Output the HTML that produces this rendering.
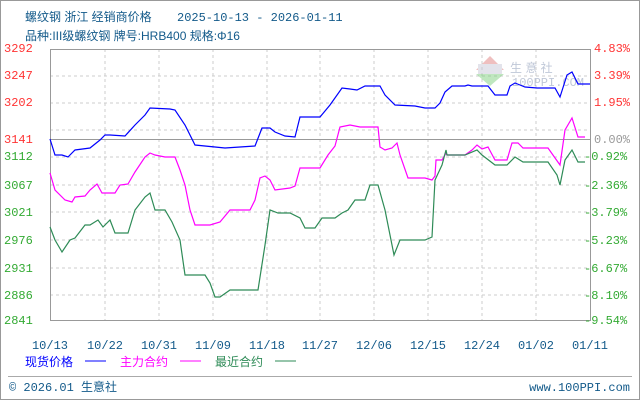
<!DOCTYPE html>
<html><head><meta charset="utf-8"><style>
body{margin:0;width:640px;height:400px;background:#fff;overflow:hidden}
svg{display:block}
text{font-family:"Liberation Mono","Noto Sans CJK SC",monospace;font-size:12px}
.c{font-family:"Liberation Sans","Noto Sans CJK SC",sans-serif}
</style></head><body>
<svg width="640" height="400" xmlns="http://www.w3.org/2000/svg">
<rect x="0.5" y="0.5" width="639" height="399" fill="#fff" stroke="#999"/>
<text x="25" y="21" class="c" fill="#135a8a" font-size="14">螺纹钢 浙江 经销商价格</text>
<text x="177" y="21" fill="#135a8a" font-size="13">2025-10-13 - 2026-01-11</text>
<text x="25" y="40" class="c" fill="#135a8a" font-size="13">品种:III级螺纹钢 牌号:HRB400 规格:Φ16</text>
<g stroke="#ccc" stroke-dasharray="3,3" stroke-width="1">
<line x1="105" y1="49" x2="105" y2="320"/><line x1="159" y1="49" x2="159" y2="320"/><line x1="213" y1="49" x2="213" y2="320"/><line x1="267" y1="49" x2="267" y2="320"/><line x1="320" y1="49" x2="320" y2="320"/><line x1="374" y1="49" x2="374" y2="320"/><line x1="428" y1="49" x2="428" y2="320"/><line x1="482" y1="49" x2="482" y2="320"/><line x1="536" y1="49" x2="536" y2="320"/>
<line x1="50" y1="76" x2="590" y2="76"/><line x1="50" y1="103" x2="590" y2="103"/><line x1="50" y1="130" x2="590" y2="130"/><line x1="50" y1="157" x2="590" y2="157"/><line x1="50" y1="185" x2="590" y2="185"/><line x1="50" y1="212" x2="590" y2="212"/><line x1="50" y1="240" x2="590" y2="240"/><line x1="50" y1="268" x2="590" y2="268"/><line x1="50" y1="295" x2="590" y2="295"/>
</g>
<line x1="50" y1="139.5" x2="590" y2="139.5" stroke="#999"/>
<rect x="50.5" y="49.5" width="540" height="271" fill="none" stroke="#999"/>
<g opacity="0.5">
<polygon points="476,70 490,56 504,70" fill="#e08080"/>
<rect x="478" y="64" width="24" height="10" fill="#c8c8d8"/>
<polygon points="476,74 504,74 490,86" fill="#80d080"/>
<text x="510" y="72" class="c" fill="#8090b0" font-size="16">生 意 社</text>
<text x="512" y="86" fill="#8090b0" font-size="10">100PPI.COM</text>
</g>
<polyline fill="none" stroke="#0000ff" stroke-width="1.2" points="50,139 55,155 62,155 68,157 75,150 90,148 100,140 105,135 110,135 125,136 135,125 145,115 150,108 170,109 175,110 185,125 195,145 225,148 255,146 262,128 270,128 275,132 285,136 295,137 300,117 320,117 330,105 342,88 350,89 357,90 365,86 380,86 385,95 395,105 415,106 425,108 435,108 440,103 445,92 452,86 465,86 468,85 472,86 488,86 495,95 507,95 510,86 515,83 520,85 525,87 537,88 555,88 560,97 567,75 572,72 578,84 590,84"/>
<polyline fill="none" stroke="#ff00ff" stroke-width="1.2" points="50,173 55,190 65,200 72,202 75,197 85,196 90,190 97,184 102,193 115,193 120,185 128,184 135,172 145,157 150,153 155,155 165,157 175,157 180,170 185,185 190,210 195,225 210,225 220,222 230,210 250,210 255,200 260,178 265,176 270,180 275,190 290,188 295,186 300,168 320,168 328,155 335,146 340,127 350,125 360,127 378,127 380,147 385,150 392,148 397,143 400,155 408,178 425,178 432,180 435,176 436,160 442,160 446,153 447,155 465,155 472,150 477,145 482,149 488,147 495,160 507,160 512,143 518,143 523,148 548,148 560,165 565,130 572,118 578,137 585,137"/>
<polyline fill="none" stroke="#2e8b57" stroke-width="1.2" points="50,227 55,240 62,252 70,240 75,238 85,225 90,225 98,220 103,227 110,220 115,233 128,233 135,210 145,197 150,193 155,210 165,210 172,222 180,240 185,275 205,275 210,283 215,297 220,297 230,290 258,290 265,245 270,210 278,213 290,213 300,218 305,228 315,228 322,218 335,218 342,213 348,210 355,200 365,200 370,185 378,185 385,210 390,235 394,255 400,240 425,240 432,237 435,180 442,165 446,150 447,155 465,155 477,150 482,155 495,165 507,165 515,157 523,162 548,162 557,175 560,185 565,160 572,150 578,162 585,162"/>
<g fill="#ff3333">
<text x="4" y="52">3292</text><text x="4" y="79">3247</text><text x="4" y="106">3202</text><text x="4" y="143">3141</text>
<text x="594" y="52">4.83%</text><text x="594" y="79">3.39%</text><text x="594" y="106">1.95%</text></g>
<text x="594" y="143" fill="#999">0.00%</text>
<g fill="#33aa33">
<text x="4" y="160">3112</text><text x="4" y="189">3067</text><text x="4" y="216">3021</text><text x="4" y="244">2976</text><text x="4" y="272">2931</text><text x="4" y="299">2886</text><text x="4" y="324">2841</text>
</g>
<g fill="#33aa33" font-family="Liberation Sans, sans-serif">
<text x="584" y="160" font-family="Liberation Sans, sans-serif">-0.92%</text><text x="584" y="189" font-family="Liberation Sans, sans-serif">-2.36%</text><text x="584" y="216" font-family="Liberation Sans, sans-serif">-3.79%</text><text x="584" y="244" font-family="Liberation Sans, sans-serif">-5.23%</text><text x="584" y="272" font-family="Liberation Sans, sans-serif">-6.67%</text><text x="584" y="299" font-family="Liberation Sans, sans-serif">-8.10%</text><text x="584" y="324" font-family="Liberation Sans, sans-serif">-9.54%</text></g>
<g fill="#135a8a" text-anchor="middle">
<text x="50" y="349">10/13</text><text x="105" y="349">10/22</text><text x="159" y="349">10/31</text><text x="213" y="349">11/09</text><text x="267" y="349">11/18</text><text x="320" y="349">11/27</text><text x="374" y="349">12/06</text><text x="428" y="349">12/15</text><text x="482" y="349">12/24</text><text x="536" y="349">01/02</text><text x="590" y="349">01/11</text></g>
<text x="25" y="366" class="c" fill="#0000ff" font-size="13">现货价格</text><line x1="85" y1="361" x2="106" y2="361" stroke="#0000ff"/>
<text x="120" y="366" class="c" fill="#ff00ff" font-size="13">主力合约</text><line x1="180" y1="361" x2="201" y2="361" stroke="#ff00ff"/>
<text x="215" y="366" class="c" fill="#2e8b57" font-size="13">最近合约</text><line x1="275" y1="361" x2="296" y2="361" stroke="#2e8b57"/>
<line x1="8" y1="376.5" x2="632" y2="376.5" stroke="#aaa"/>
<text x="9" y="391" fill="#135a8a">© 2026.01 <tspan class="c">生意社</tspan></text>
<text x="630" y="391" fill="#135a8a" text-anchor="end">www.100PPI.com</text>
</svg>
</body></html>
